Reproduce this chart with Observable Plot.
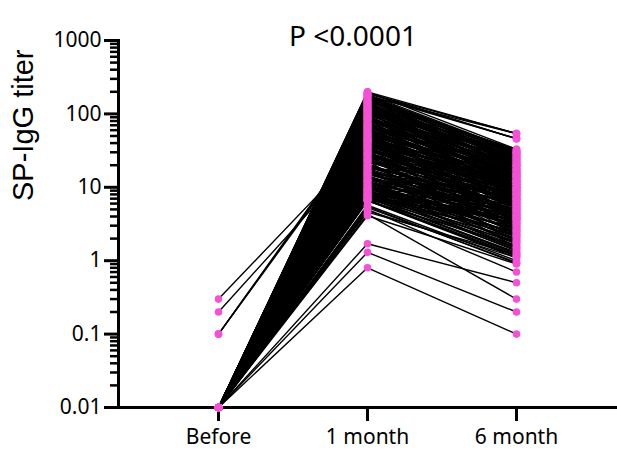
<!DOCTYPE html>
<html><head><meta charset="utf-8">
<script src="https://cdn.jsdelivr.net/npm/d3@7"></script>
<script src="https://cdn.jsdelivr.net/npm/@observablehq/plot@0.6"></script>
<style>body{margin:0;background:#fff}</style>
</head><body><div id="chart"></div>
<script>
const title = "P <0.0001";
const yTitle = "SP-IgG titer";
const timepoints = ["Before", "1 month", "6 month"];
const yTicks = [0.01, 0.1, 1, 10, 100, 1000];
const yTickLabels = ["0.01", "0.1", "1", "10", "100", "1000"];

const before = [
  0.01,0.01,0.01,0.01,0.01,0.01,0.01,0.01,0.01,0.01,
  0.01,0.01,0.01,0.01,0.01,0.01,0.01,0.01,0.01,0.01,
  0.01,0.01,0.01,0.01,0.01,0.01,0.01,0.01,0.01,0.01,
  0.01,0.01,0.01,0.01,0.01,0.01,0.01,0.01,0.01,0.01,
  0.01,0.01,0.01,0.1,0.01,0.01,0.1,0.01,0.01,0.1,
  0.01,0.01,0.01,0.01,0.01,0.01,0.01,0.01,0.01,0.01,
  0.01,0.01,0.01,0.01,0.01,0.3,0.01,0.01,0.01,0.01,
  0.2,0.01,0.01,0.01,0.01,0.01,0.01,0.01,0.01,0.01,
  0.01,0.01,0.01,0.01,0.01,0.01,0.01,0.01,0.01,0.01,
  0.01,0.01,0.01,0.01,0.01,0.01,0.01,0.01,0.01,0.01,
  0.01,0.01,0.01,0.01,0.01,0.01,0.01,0.01,0.01,0.01,
  0.01,0.01,0.01,0.01,0.01,0.01,0.01,0.01,0.01,0.01,
  0.01,0.01,0.01,0.01,0.01,0.01,0.01,0.01,0.01,0.01,
  0.01,0.01,0.01,0.01,0.01,0.01,0.01,0.01,0.01,0.01,
  0.01,0.01,0.01,0.01,0.01,0.01,0.01,0.01,0.01,0.01,
  0.01,0.01,0.01,0.01,0.01,0.01,0.01,0.01,0.01,0.01,
  0.01,0.01,0.01,0.01,0.01,0.01,0.01,0.01,0.01,0.01,
  0.01,0.01,0.01,0.01,0.01,0.01,0.01,0.01,0.01,0.01,
  0.01,0.01,0.01,0.01,0.01,0.01,0.01,0.01,0.01,0.01,
  0.01,0.01,0.01,0.01,0.01,0.01,0.01,0.01,0.01,0.01,
  0.01,0.01,0.01,0.01,0.01,0.01,0.01,0.01,0.01,0.01,
  0.01,0.01,0.01,0.01,0.01,0.01,0.01,0.01,0.01,0.01,
  0.01,0.01,0.01,0.01,0.01,0.01,0.01,0.01,0.01,0.01,
  0.01,0.01,0.01,0.01,0.01,0.01,0.01,0.01,0.01,0.01,
  0.01,0.01,0.01,0.01,0.01,0.01,0.01,0.01,0.01,0.01
];
const month1 = [
  200,195,190,185,180,175,170,165,160,155,
  150,148,145,140,138,135,130,128,125,122,
  120,118,115,112,110,108,105,102,100,98,
  96,94,92,90,88,86,84,82,80,78,
  76,74,72,70,68,66,65,63,62,60,
  58,57,55,54,52,51,50,48,47,46,
  45,44,43,42,41,40,39,38,37,36,
  35,34,33,32,31,30,29,28,27,26,
  25,24,23,22,21,20,19.5,19,18,17.5,
  17,16,15.5,15,14.5,14,13.5,13,12.5,12,
  11.5,11,10.5,10,9.8,9.5,9.2,9,8.8,8.5,
  8.2,8,7.8,7.5,7.3,7,6.8,6.6,6.5,5.7,
  5.3,5,4.6,4.3,4.1,1.7,1.3,0.8,190,170,
  150,140,130,115,105,95,85,75,67,59,
  53,49,45,42,38,34,31,28,26,24,
  22,20,18.5,16.5,15,13.8,12.8,11.8,11.2,10.2,
  9.4,8.6,7.9,7.2,6.9,6.7,180,175,5.5,4.8,
  198,186,172,162,152,143,133,126,117,107,
  99,91,83,77,71,64,61,56,50,47,
  44,41,39,36,33,30,27,25,23,21,
  19,17,16,14.5,13,12,11,10,9.5,8.8,
  8,7.4,7,6.6,160,120,90,70,55,45,
  37,29,24,20,16.5,14,12,10.5,9,7.8,
  185,140,110,86,66,52,43,35,28,23,
  18,15,12.5,10.8,9.3,8.3,7.6,7.1,6.8,6.6
];
const month6 = [
  54,46,54,31,28,30,25,29,22,27,
  24,30,20,26,18,23,21,28,19,24,
  17,22,16,25,20,15,18,23,14,19,
  21,13,17,15,20,12,16,14,18,11,
  15,13,17,10,14,12,16,9.5,13,11,
  15,9,12,10,14,8.5,11,9.8,13,8,
  10.5,7.5,12,9,6.8,10,8.2,11,7,9.2,
  6.2,8.8,5.8,7.8,10,6.5,5.2,8,6,4.8,
  7.2,5.5,4.4,6.6,4,5,3.6,6,4.5,3.3,
  5.4,4.1,3,4.8,2.8,3.8,2.5,4.3,3.4,2.3,
  3.9,2.6,2.1,3.1,1.9,2.7,1.7,2.4,1.6,3.5,
  1.5,2.2,1.4,2,1.3,1.8,1.2,1.1,1.6,1.0,
  0.95,0.7,1.2,0.3,0.9,0.5,0.2,0.1,46,18,
  33,12,29,10,27,9,24,8.5,20,7,
  17,6.5,15,5.5,13,4.6,12,4.2,9,3.7,
  8,3.2,7,2.9,6.2,2.2,5,2,4.6,1.8,
  3.6,1.45,2.9,1.25,2.5,1.15,46,54,0.92,1.1,
  33,20,31,14,29,12,26,10,22,8,
  30,7,25,6,22,5.5,19,4.8,17,4.2,
  15,3.8,14,3.4,12,3,11,2.6,9.5,2.3,
  8.5,2.1,7.4,1.9,6.5,1.7,5.6,1.5,4.9,1.35,
  4.2,1.25,3.7,1.15,32,26,20,15,13,11,
  9.5,7.5,6.8,5.8,4.9,4.3,3.7,3.2,2.8,2.4,
  12,9,7,5.2,4,3.2,2.6,2.2,1.8,1.5,
  14,11,9.2,8,7,6,5.2,4.5,4,3.6
];

const series = [before, month1, month6];
const rows = month1.flatMap((_, i) =>
  timepoints.map((t, k) => ({id: i, time: t, value: series[k][i]})));

const minorTicks = [];
for (let e = -2; e < 3; e++) for (let m = 2; m <= 9; m++) minorTicks.push(m * Math.pow(10, e));

const pink = "#f550d6";

const chart = Plot.plot({
  width: 617,
  height: 452,
  marginLeft: 118,
  marginRight: 0,
  marginTop: 40,
  marginBottom: 45,
  style: {fontFamily: "'Noto Sans', sans-serif", color: "black", background: "white", overflow: "visible"},
  x: {type: "point", domain: timepoints, range: [218, 516], padding: 0, label: null},
  y: {type: "log", domain: [0.01, 1000], label: null},
  marks: [
    Plot.ruleY([0.01], {strokeWidth: 3, stroke: "black"}),
    Plot.frame({anchor: "left", strokeWidth: 3, stroke: "black"}),
    Plot.axisY(minorTicks, {tickSize: 8, strokeWidth: 2.5, tickFormat: () => "", label: null}),
    Plot.axisY(yTicks, {tickSize: 14, strokeWidth: 3, tickFormat: d => yTickLabels[yTicks.indexOf(d)], fontSize: 21, tickPadding: 3, label: null}),
    Plot.axisX({tickSize: 14, strokeWidth: 3, fontSize: 21, tickPadding: 8, label: null}),
    Plot.line(rows, {x: "time", y: "value", z: "id", stroke: "black", strokeWidth: 1.4}),
    Plot.dot(rows, {x: "time", y: "value", r: 3.8, fill: pink, stroke: "none"}),
    Plot.text([title], {frameAnchor: "top", dy: -14, dx: -15, fontSize: 28, fill: "black"}),
    Plot.text([yTitle], {frameAnchor: "left", rotate: -90, dx: -95, dy: -23, fontSize: 29, fill: "black", fontFamily: "'Liberation Sans', Arial, sans-serif"})
  ]
});
document.getElementById("chart").appendChild(chart);
</script>
</body></html>
